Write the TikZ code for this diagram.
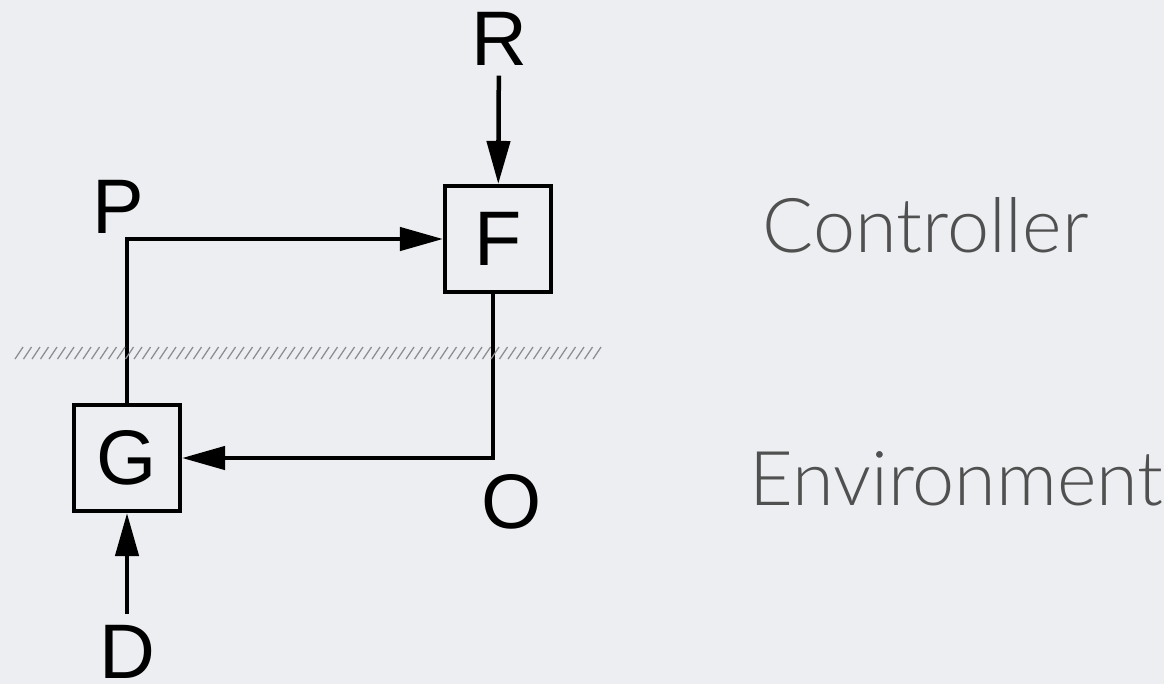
\documentclass[tikz,border=0pt]{standalone}
\usepackage{fontspec}
\setmainfont{Liberation Sans}
\newfontfamily\slidefont{Lato}[UprightFont=* Light]
\usetikzlibrary{positioning,arrows.meta}
\definecolor{slidebg}{RGB}{237,238,241}
\definecolor{slidetext}{RGB}{80,80,80}

\begin{document}
\begin{tikzpicture}[
    x=0.01cm, y=-0.01cm,
    font=\fontsize{22}{26}\selectfont,
    >={Triangle[length=0.43cm,width=0.23cm]},
    blk/.style={draw=black, line width=0.045cm, minimum size=1.055cm, inner sep=0pt},
    sig/.style={inner sep=0.1cm},
    arr/.style={->, draw=black, line width=0.045cm},
    hatch/.style={draw=black!45, line width=0.35pt},
    side/.style={font=\slidefont\fontsize{21.5}{24}\selectfont, text=slidetext, inner sep=0pt},
]

% ---- Canvas --------------------------------------------------------
\fill[slidebg] (0,0) rectangle (1164,684);
\useasboundingbox (0,0) rectangle (1164,684);

% ---- Blocks --------------------------------------------------------
\node[blk] (F) at (498,239) {F};
\node[blk] (G) at (127,458) {G};

% ---- Signals -------------------------------------------------------
\node[sig, anchor=base] (R) at (499,65)  {R};
\node[sig, anchor=base] (P) at (118,233) {P};
\node[sig, anchor=base] (O) at (512,528) {O};
\node[sig, inner sep=0pt, anchor=base] (D) at (127,678) {D};

% ---- Loop ----------------------------------------------------------
\draw[arr] (R) -- (F);
\draw[arr] (G.north) |- (F.west);
\draw[arr] ([xshift=-0.05cm]F.south) |- (G.east);
\draw[arr, shorten <=0.1cm] (D) -- (G);

% ---- Boundary ------------------------------------------------------
\foreach \x in {15,23.5,...,598}
    \draw[hatch] (\x,359) -- ++(8,-12);

% ---- Side labels ---------------------------------------------------
\node[side, anchor=base west] (ctrl) at (762,252) {Controller};
\node[side, anchor=base west] (env)  at (749,505) {Environment};

\end{tikzpicture}
\end{document}
